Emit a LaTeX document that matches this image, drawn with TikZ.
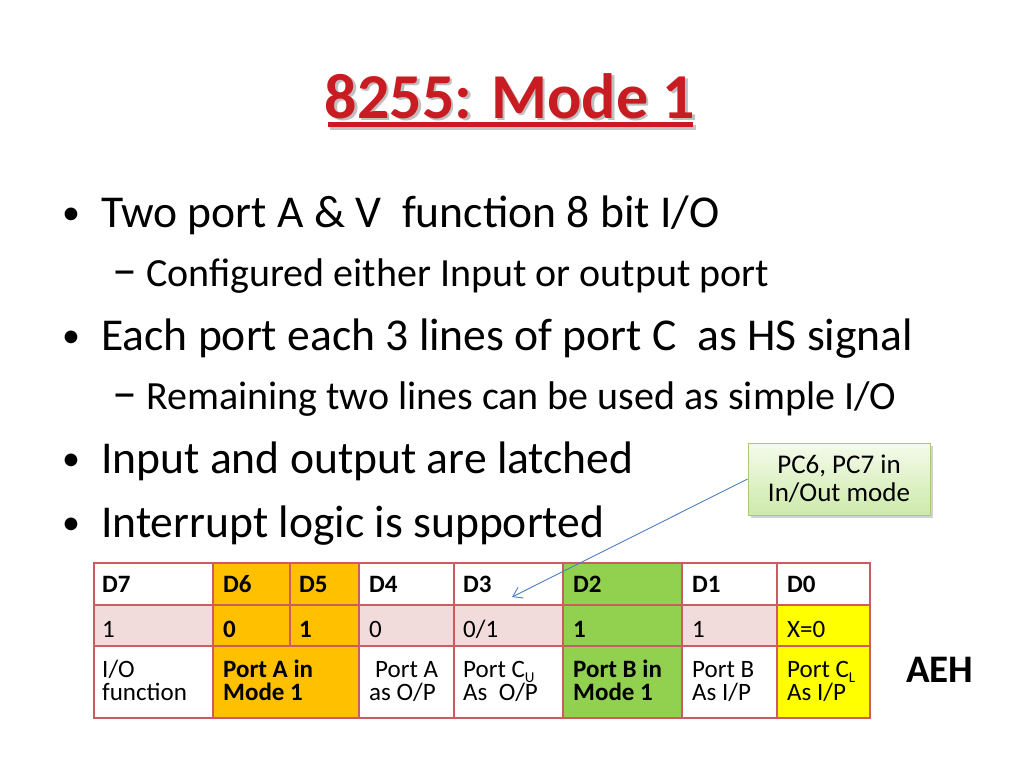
\documentclass[tikz,border=0pt]{standalone}
\usepackage{fontspec}
\setmainfont{Carlito}
\usetikzlibrary{arrows.meta,shadows}
\definecolor{tred}{RGB}{200,28,34}
\definecolor{gridc}{RGB}{203,92,98}
\definecolor{pinkrow}{RGB}{242,220,219}
\definecolor{orng}{RGB}{255,192,0}
\definecolor{grn}{RGB}{146,208,80}
\definecolor{yel}{RGB}{255,255,0}
\definecolor{arrowblue}{RGB}{79,129,189}
\definecolor{calltop}{RGB}{245,251,235}
\definecolor{callbot}{RGB}{205,233,170}
\definecolor{callborder}{RGB}{170,200,120}
\begin{document}
\begin{tikzpicture}[x=1pt,y=-1pt,
  main/.style={anchor=base west, inner sep=0pt, font=\fontsize{45.6}{54}\selectfont},
  subl/.style={anchor=base west, inner sep=0pt, font=\fontsize{40}{48}\selectfont},
  bulletmark/.style={anchor=base west, inner sep=0pt, font=\fontsize{36}{40}\selectfont},
  dashmark/.style={anchor=base west, inner sep=0pt, font=\fontsize{50}{56}\selectfont},
  cell/.style={anchor=base west, inner sep=0pt, font=\fontsize{25}{30}\selectfont},
  bcell/.style={cell, font=\fontsize{25}{30}\selectfont\bfseries},
  gridline/.style={draw=gridc, line width=1.3pt},
]
\useasboundingbox (0,0) rectangle (1024,768);
\fill[white] (0,0) rectangle (1024,768);

% Title with shadow
\fill[black!45, opacity=0.5] (330,125) rectangle (696,130);
\fill[tred] (328,122) rectangle (693,127);
\node[anchor=base, inner sep=0pt, text=black!50, opacity=0.5, font=\fontsize{64}{70}\selectfont\bfseries] (titleshadow) at (512.5,120) {8255: Mode 1};
\node[anchor=base, inner sep=0pt, text=tred, font=\fontsize{64}{70}\selectfont\bfseries] (title) at (510,118) {8255: Mode 1};

% Bullets
\node[bulletmark] (b1) at (62,224) {•};
\node[main] (t1) at (101,227) {Two port A \& V\ \ function 8 bit I/O};
\node[dashmark] (d1) at (112,286) {–};
\node[subl] (s1) at (146,286) {Configured either Input or output port};
\node[bulletmark] (b2) at (62,347) {•};
\node[main] (t2) at (101,350) {Each port each 3 lines of port C\ \ as HS signal};
\node[dashmark] (d2) at (112,409) {–};
\node[subl] (s2) at (146,409) {Remaining two lines can be used as simple I/O};
\node[bulletmark] (b3) at (62,470) {•};
\node[main] (t3) at (101,473) {Input and output are latched};
\node[bulletmark] (b4) at (62,534) {•};
\node[main] (t4) at (101,537) {Interrupt logic is supported};

% Table backgrounds
\fill[pinkrow] (94,605) rectangle (870,646);
\fill[orng] (213,563) rectangle (359,718);
\fill[grn] (563,563) rectangle (682,718);
\fill[yel] (777,605) rectangle (870,718);

% grid
\draw[gridline] (94,563) rectangle (870,718);
\draw[draw=gridc, line width=2.2pt] (94,605) -- (870,605);
\draw[gridline] (94,646) -- (870,646);
\foreach \x in {213,359,454,563,682,777} \draw[gridline] (\x,563) -- (\x,718);
\draw[gridline] (290,563) -- (290,646);

% Header row
\node[bcell] (h7) at (102,592) {D7};
\node[bcell] (h6) at (223,592) {D6};
\node[bcell] (h5) at (299,592) {D5};
\node[bcell] (h4) at (369,592) {D4};
\node[bcell] (h3) at (463,592) {D3};
\node[bcell] (h2) at (573,592) {D2};
\node[bcell] (h1) at (692,592) {D1};
\node[bcell] (h0) at (787,592) {D0};

% Value row
\node[cell] (v7) at (102,637) {1};
\node[bcell] (v6) at (223,637) {0};
\node[bcell] (v5) at (299,637) {1};
\node[cell] (v4) at (369,637) {0};
\node[cell] (v3) at (463,637) {0/1};
\node[bcell] (v2) at (573,637) {1};
\node[cell] (v1) at (692,637) {1};
\node[cell] (v0) at (787,637) {X=0};

% Description row
\node[cell] (f7a) at (102,677) {I/O};
\node[cell] (f7b) at (102,700) {function};
\node[bcell] (f6a) at (223,677) {Port A in};
\node[bcell] (f6b) at (223,700) {Mode 1};
\node[cell] (f4a) at (375,677) {Port A};
\node[cell] (f4b) at (369,700) {as O/P};
\node[cell] (f3a) at (463,677) {Port C\raisebox{-0.22em}{\fontsize{15}{15}\selectfont U}};
\node[cell] (f3b) at (463,700) {As\ \ O/P};
\node[bcell] (f2a) at (573,677) {Port B in};
\node[bcell] (f2b) at (573,700) {Mode 1};
\node[cell] (f1a) at (692,677) {Port B};
\node[cell] (f1b) at (692,700) {As I/P};
\node[cell] (f0a) at (787,677) {Port C\raisebox{-0.22em}{\fontsize{15}{15}\selectfont L}};
\node[cell] (f0b) at (787,700) {As I/P};

% AEH
\node[anchor=base west, inner sep=0pt, font=\fontsize{39}{44}\selectfont\bfseries] (aeh) at (906,682) {AEH};

% Callout
\node[draw=callborder, line width=0.8pt, top color=calltop, bottom color=callbot,
      minimum width=182pt, minimum height=72pt, align=center, inner sep=2pt,
      font=\fontsize{27}{28}\selectfont,
      drop shadow={shadow xshift=2.5pt, shadow yshift=-2.5pt, opacity=0.35}] (call) at (839,479)
      {PC6, PC7 in\\In/Out mode};
\coordinate (tip) at (512,597);
\draw[arrowblue, line width=0.9pt, -{Straight Barb[length=9pt,width=12pt]}] (call.west) -- (tip);
\end{tikzpicture}
\end{document}
